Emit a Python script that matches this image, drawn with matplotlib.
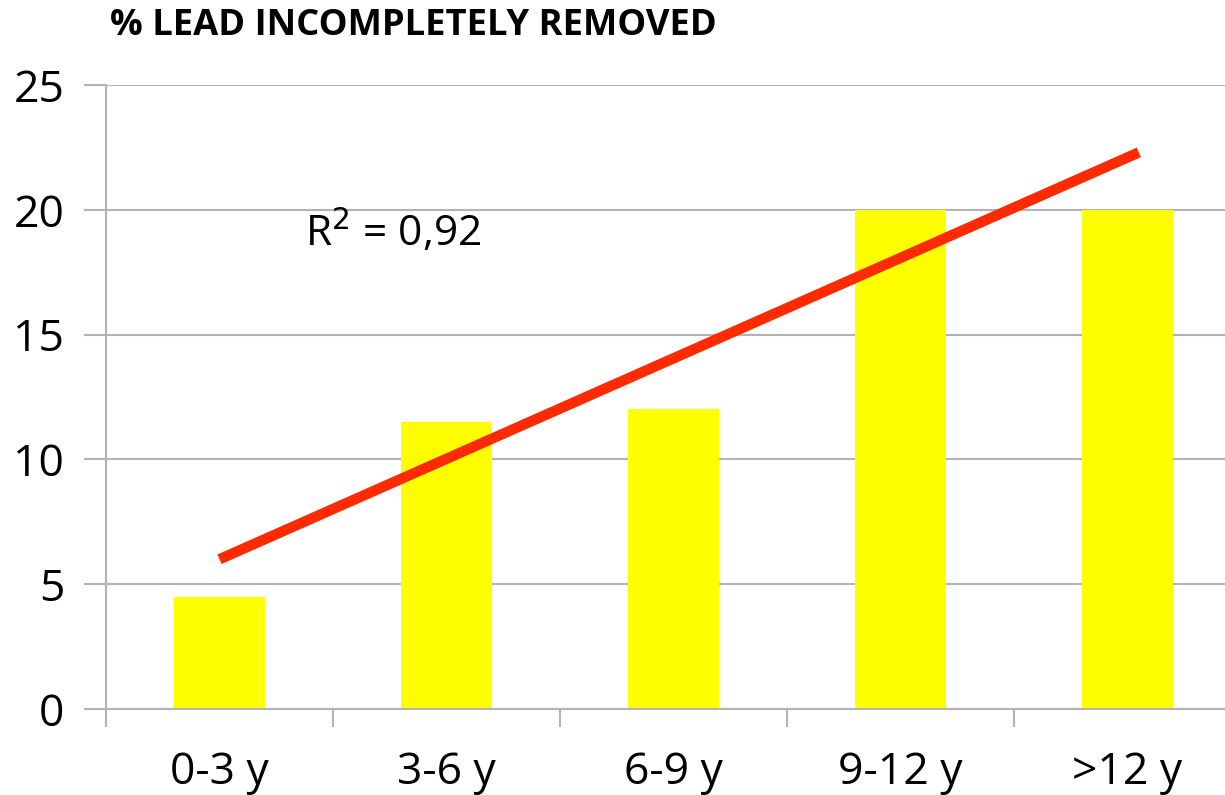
import matplotlib.pyplot as plt
from matplotlib.ticker import FixedLocator

categories = ["0-3 y", "3-6 y", "6-9 y", "9-12 y", ">12 y"]
values = [4.5, 11.5, 12.0, 20.0, 20.0]

# trend line as drawn on the original (category index, value)
trend_x = [0.0, 4.05]
trend_y = [6.0, 22.3]
r2_label = "R$^2$ = 0,92"

plt.rcParams["font.family"] = ["Open Sans", "DejaVu Sans"]

fig = plt.figure(figsize=(12.25, 7.95), dpi=100)
ax = fig.add_axes([106 / 1225, 86 / 795, 1135 / 1225, 624 / 795])

x = list(range(len(categories)))
ax.bar(x, values, width=0.4, color="#FFFF00", zorder=2)
ax.plot(trend_x, trend_y, color="#FF2A00", linewidth=7.5, solid_capstyle="butt", zorder=3)

ax.set_xlim(-0.5, len(categories) - 0.5)
ax.set_ylim(0, 25)
ax.set_yticks([0, 5, 10, 15, 20, 25])
ax.yaxis.grid(True, color="#B3B3B3", linewidth=1.5, zorder=0)
ax.set_axisbelow(True)

# category labels centred, tick marks at the boundaries
ax.set_xticks(x)
ax.set_xticklabels(categories)
ax.xaxis.set_minor_locator(FixedLocator([i + 0.5 for i in range(-1, len(categories))]))
ax.tick_params(axis="x", which="major", length=0, pad=30, labelsize=32)
ax.tick_params(axis="x", which="minor", length=13, width=1.5, color="#B3B3B3", direction="out")
ax.tick_params(axis="y", length=16, width=1.5, color="#B3B3B3", pad=14, labelsize=32)

for side in ["top", "right"]:
    ax.spines[side].set_visible(False)
for side in ["left", "bottom"]:
    ax.spines[side].set_color("#B3B3B3")
    ax.spines[side].set_linewidth(1.5)

ax.text(0.377, 19.1, r2_label, fontsize=30.5, ha="left", va="center")

fig.text(110 / 1225, 1 - 26 / 795, "% LEAD INCOMPLETELY REMOVED", fontsize=26.2,
         fontweight="bold", ha="left", va="center")

fig.savefig("out.png", dpi=100)
